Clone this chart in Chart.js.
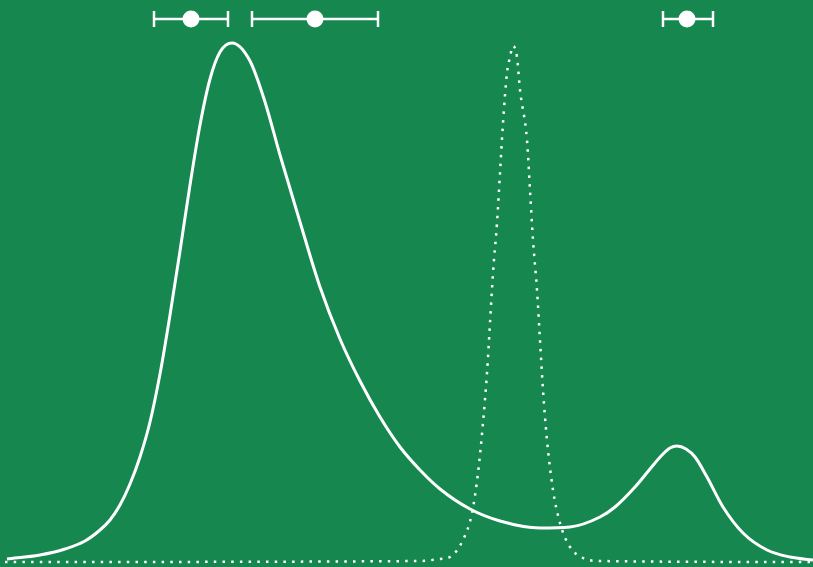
<!DOCTYPE html>
<html>
<head>
<meta charset="utf-8">
<script src="https://cdn.jsdelivr.net/npm/chart.js@4"></script>
<style>
  html, body { margin: 0; padding: 0; background: #15874f; }
  #grafico { display: block; }
</style>
</head>
<body>
<canvas id="grafico" width="813" height="567"></canvas>
<script>
// === Dados ===
// curva contínua (dois picos)
const solidX = [7, 40, 65, 85, 100, 110, 120, 130, 140, 150, 160, 170, 180, 190, 200, 210, 220, 232, 250, 265, 280, 300, 320, 340, 360, 380, 400, 420, 440, 470, 500, 540, 570, 600, 615, 635, 650, 662, 670, 677, 686, 695, 707, 723, 743, 767, 790, 813];
const solidY = [8, 12, 18, 26, 37, 47, 62, 83, 110, 145, 193, 252, 316, 382, 442, 488, 515, 524, 506, 465, 412, 345, 280, 228, 186, 150, 120, 97, 78, 58, 46, 39, 40, 50, 60, 80, 98, 112, 119, 121, 118, 110, 90, 60, 34, 17, 10, 7];

// curva pontilhada (pico estreito)
const dottedX = [5, 420, 440, 450, 463, 472, 478, 483, 487, 490, 493, 497, 500, 503, 507, 510, 513, 517, 520, 527, 530, 533, 537, 540, 543, 547, 553, 560, 570, 583, 600, 813];
const dottedY = [5, 6, 8, 10, 27, 54, 94, 144, 194, 244, 294, 344, 394, 444, 494, 510, 521, 510, 477, 427, 377, 327, 277, 227, 177, 127, 77, 44, 20, 9, 6, 5];

// barras de erro no topo
const errX = [191, 315, 687];
const errLo = [154, 252, 663];
const errHi = [228, 378, 713];
const errY = 548;

// === Montagem dos datasets ===
const pares = (xs, ys) => xs.map((x, i) => ({ x: x, y: ys[i] }));

const datasets = [
    {
        data: pares(solidX, solidY),
        borderColor: "#ffffff",
        borderWidth: 3,
        pointRadius: 0,
        cubicInterpolationMode: "monotone",
        clip: false
    },
    {
        data: pares(dottedX, dottedY),
        borderColor: "#ffffff",
        borderWidth: 2.5,
        borderDash: [2.5, 6.2],
        pointRadius: 0,
        cubicInterpolationMode: "monotone",
        clip: false
    }
];

// bigodes com traços verticais nas pontas
errX.forEach((x, i) => {
    datasets.push({
        data: [{ x: errLo[i], y: errY }, { x: errHi[i], y: errY }],
        borderColor: "#ffffff",
        borderWidth: 2.5,
        pointStyle: "line",
        rotation: 90,
        pointRadius: 8,
        pointBorderWidth: 2.5,
        pointBorderColor: "#ffffff",
        clip: false
    });
});

// pontos centrais
datasets.push({
    data: errX.map(x => ({ x: x, y: errY })),
    showLine: false,
    pointRadius: 8.5,
    pointBackgroundColor: "#ffffff",
    pointBorderColor: "#ffffff",
    pointBorderWidth: 0,
    clip: false
});

const grafico = new Chart(document.getElementById("grafico"), {
    type: "line",
    data: { datasets: datasets },
    options: {
        responsive: false,
        animation: false,
        events: [],
        layout: { padding: 0, autoPadding: false },
        plugins: { legend: { display: false }, tooltip: { enabled: false } },
        scales: {
            x: { type: "linear", min: 0, max: 813, display: false },
            y: { type: "linear", min: 0, max: 567, display: false }
        }
    }
});
</script>
</body>
</html>
